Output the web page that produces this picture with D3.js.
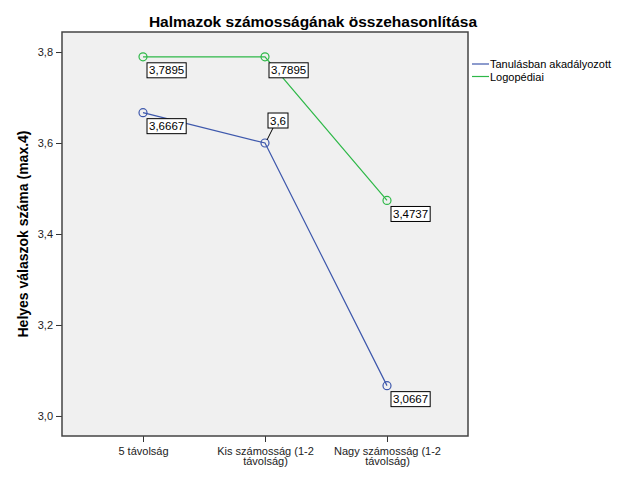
<!DOCTYPE html>
<html lang="hu">
<head>
<meta charset="utf-8">
<script src="https://d3js.org/d3.v7.min.js"></script>
<style type="text/css">
	body { margin:0; background:#fff; }
	svg text { font-family: Arial, "Liberation Sans", sans-serif; }
</style>
</head>
<body>
<script type="text/javascript">
	// categories on the x axis
	var categories = ["5 távolság", "Kis számosság (1-2 távolság)", "Nagy számosság (1-2 távolság)"];
	// the two groups
	var seriesNames = ["Tanulásban akadályozott", "Logopédiai"];
	var tanulasValues = [3.6667, 3.6, 3.0667];
	var logoValues = [3.7895, 3.7895, 3.4737];
	var yTicks = [3.0, 3.2, 3.4, 3.6, 3.8];
	var seriesColors = ["#3e58ac", "#2eb848"];

	var W = 626, H = 501;
	var plotL = 62, plotR = 468, plotT = 32, plotB = 436;

	var svg = d3.select("body").append("svg")
		.attr("width", W)
		.attr("height", H);

	var x = d3.scalePoint()
		.domain(categories)
		.range([plotL, plotR])
		.padding(0.664);

	var y = d3.scaleLinear()
		.domain([2.956, 3.844])
		.range([plotB, plotT]);

	var comma = function(v) { return d3.format(".4~f")(v).replace(".", ","); };

	// plot background
	svg.append("rect")
		.attr("x", plotL).attr("y", plotT)
		.attr("width", plotR - plotL).attr("height", plotB - plotT)
		.attr("fill", "#f0f0f0");

	// y axis
	var yAxis = svg.append("g")
		.attr("transform", "translate(" + plotL + ",0)")
		.call(d3.axisLeft(y).tickValues(yTicks).tickSize(6).tickPadding(3).tickFormat(function(d){ return d3.format(".1f")(d).replace(".", ","); }));
	yAxis.select(".domain").remove();
	yAxis.selectAll("text").attr("font-size", 11).attr("fill", "#222").attr("font-family", "Arial, 'Liberation Sans', sans-serif");
	yAxis.selectAll("line").attr("stroke", "#333");

	// x axis
	var xAxis = svg.append("g")
		.attr("transform", "translate(0," + plotB + ")")
		.call(d3.axisBottom(x).tickSize(6).tickPadding(5));
	xAxis.select(".domain").remove();
	xAxis.selectAll("line").attr("stroke", "#333");
	xAxis.selectAll("text")
		.attr("font-size", 11).attr("fill", "#222")
		.attr("font-family", "Arial, 'Liberation Sans', sans-serif")
		.call(wrap, 112);

	function wrap(texts, width) {
		texts.each(function() {
			var t = d3.select(this);
			var words = t.text().split(/\s+/);
			var yy = t.attr("y"), dy = parseFloat(t.attr("dy"));
			t.text(null);
			var line = [], lineNo = 0;
			var tspan = t.append("tspan").attr("x", 0).attr("y", yy).attr("dy", dy + "em");
			words.forEach(function(w) {
				line.push(w);
				tspan.text(line.join(" "));
				if (tspan.node().getComputedTextLength() > width && line.length > 1) {
					line.pop();
					tspan.text(line.join(" "));
					line = [w];
					lineNo++;
					tspan = t.append("tspan").attr("x", 0).attr("y", yy)
						.attr("dy", (dy + lineNo * 0.95) + "em").text(w);
				}
			});
		});
	}

	// frame
	svg.append("rect")
		.attr("x", plotL).attr("y", plotT)
		.attr("width", plotR - plotL).attr("height", plotB - plotT)
		.attr("fill", "none")
		.attr("stroke", "#444")
		.attr("stroke-width", 1.5);

	// series lines + markers
	var allSeries = [tanulasValues, logoValues];
	var line = d3.line()
		.x(function(d, i) { return x(categories[i]); })
		.y(function(d) { return y(d); });

	allSeries.forEach(function(vals, s) {
		svg.append("path")
			.datum(vals)
			.attr("d", line)
			.attr("fill", "none")
			.attr("stroke", seriesColors[s])
			.attr("stroke-width", 1.2);
		svg.selectAll(".m" + s)
			.data(vals)
			.enter().append("circle")
			.attr("class", "m" + s)
			.attr("cx", function(d, i) { return x(categories[i]); })
			.attr("cy", function(d) { return y(d); })
			.attr("r", 4)
			.attr("fill", "none")
			.attr("stroke", seriesColors[s])
			.attr("stroke-width", 1.2);
	});

	// data labels: boxed, below-right of point, except where it would hit the other line
	var labelAbove = [[false, true, false], [false, false, false]];
	allSeries.forEach(function(vals, s) {
		vals.forEach(function(v, i) {
			var px = x(categories[i]), py = y(v);
			var g = svg.append("g");
			var txt = g.append("text")
				.attr("font-size", 11.5)
				.attr("fill", "#000")
				.text(comma(v));
			var w = txt.node().getComputedTextLength() + 4, h = 15;
			var bx, by;
			if (labelAbove[s][i]) {
				bx = px + 3; by = py - 30;
				g.insert("line", "text")
					.attr("x1", px + 2).attr("y1", py - 3)
					.attr("x2", bx + 5).attr("y2", by + h)
					.attr("stroke", "#000").attr("stroke-width", 1);
			} else {
				bx = px + 4; by = py + 6;
			}
			g.insert("rect", "text")
				.attr("x", bx).attr("y", by)
				.attr("width", w).attr("height", h)
				.attr("fill", "#fff").attr("stroke", "#000").attr("stroke-width", 1);
			txt.attr("x", bx + 2).attr("y", by + 11.5);
		});
	});

	// title
	svg.append("text")
		.attr("x", 313).attr("y", 27)
		.attr("text-anchor", "middle")
		.attr("font-size", 15.5).attr("font-weight", "bold")
		.text("Halmazok számosságának összehasonlítása");

	// y axis title
	svg.append("text")
		.attr("transform", "translate(28," + ((plotT + plotB) / 2) + ") rotate(-90)")
		.attr("text-anchor", "middle")
		.attr("font-size", 14).attr("font-weight", "bold")
		.text("Helyes válaszok száma (max.4)");

	// legend
	seriesNames.forEach(function(n, s) {
		var ly = 64 + s * 12.5;
		svg.append("line")
			.attr("x1", 472).attr("x2", 489)
			.attr("y1", ly).attr("y2", ly)
			.attr("stroke", seriesColors[s]).attr("stroke-width", 1.2);
		svg.append("text")
			.attr("x", 490).attr("y", ly + 4)
			.attr("font-size", 11)
			.text(n);
	});
</script>
</body>
</html>
